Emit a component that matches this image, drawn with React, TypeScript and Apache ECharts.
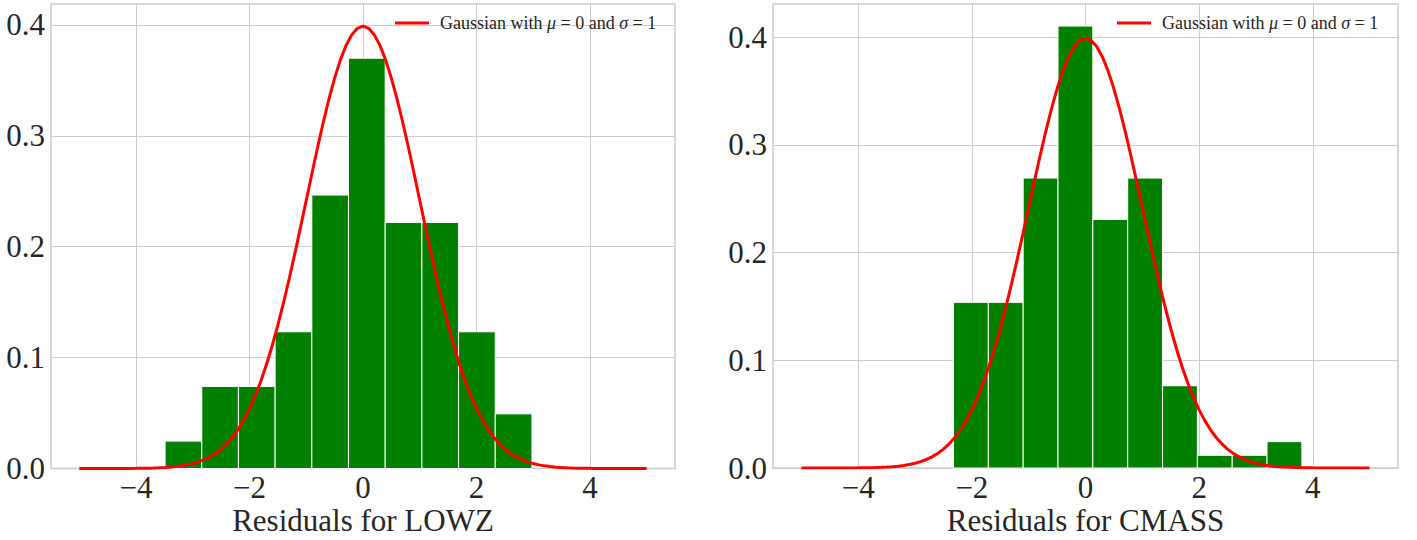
import React, { useEffect, useRef } from 'react';
import * as echarts from 'echarts';

// ---- data ----
const xTicks = [-4, -2, 0, 2, 4];
const yTicks = [0, 0.1, 0.2, 0.3, 0.4];
const xLimits = [-5.5, 5.5];

const lowzBinEdges = [-3.489, -2.842, -2.196, -1.549, -0.902, -0.256, 0.391, 1.038, 1.685, 2.331, 2.978];
const lowzDensity = [0.0247, 0.074, 0.074, 0.1233, 0.2466, 0.37, 0.2219, 0.2219, 0.1233, 0.0493];
const lowzYMax = 0.4189;

const cmassBinEdges = [-2.323, -1.71, -1.097, -0.484, 0.129, 0.743, 1.356, 1.969, 2.582, 3.195, 3.808];
const cmassDensity = [0.1538, 0.1538, 0.2692, 0.4103, 0.2308, 0.2692, 0.0764, 0.0118, 0.0118, 0.0245];
const cmassYMax = 0.4308;

const curveX = [
  -5, -4.9, -4.8, -4.7, -4.6, -4.5, -4.4, -4.3, -4.2, -4.1,
  -4, -3.9, -3.8, -3.7, -3.6, -3.5, -3.4, -3.3, -3.2, -3.1,
  -3, -2.9, -2.8, -2.7, -2.6, -2.5, -2.4, -2.3, -2.2, -2.1,
  -2, -1.9, -1.8, -1.7, -1.6, -1.5, -1.4, -1.3, -1.2, -1.1,
  -1, -0.9, -0.8, -0.7, -0.6, -0.5, -0.4, -0.3, -0.2, -0.1,
  0,
  0.1, 0.2, 0.3, 0.4, 0.5, 0.6, 0.7, 0.8, 0.9, 1,
  1.1, 1.2, 1.3, 1.4, 1.5, 1.6, 1.7, 1.8, 1.9, 2,
  2.1, 2.2, 2.3, 2.4, 2.5, 2.6, 2.7, 2.8, 2.9, 3,
  3.1, 3.2, 3.3, 3.4, 3.5, 3.6, 3.7, 3.8, 3.9, 4,
  4.1, 4.2, 4.3, 4.4, 4.5, 4.6, 4.7, 4.8, 4.9, 5,
];
const curveY = [
  0.0000015, 0.000002, 0.000004, 0.000006, 0.00001, 0.000016, 0.000025, 0.000039, 0.000059, 0.000089,
  0.000134, 0.000199, 0.000292, 0.000425, 0.000612, 0.000873, 0.001232, 0.001723, 0.002384, 0.003267,
  0.004432, 0.005953, 0.007915, 0.010421, 0.013583, 0.017528, 0.022395, 0.028327, 0.035475, 0.043984,
  0.053991, 0.065616, 0.07895, 0.094049, 0.110921, 0.129518, 0.149727, 0.171369, 0.194186, 0.217852,
  0.241971, 0.266085, 0.289692, 0.312254, 0.333225, 0.352065, 0.36827, 0.381388, 0.391043, 0.396953,
  0.398942,
  0.396953, 0.391043, 0.381388, 0.36827, 0.352065, 0.333225, 0.312254, 0.289692, 0.266085, 0.241971,
  0.217852, 0.194186, 0.171369, 0.149727, 0.129518, 0.110921, 0.094049, 0.07895, 0.065616, 0.053991,
  0.043984, 0.035475, 0.028327, 0.022395, 0.017528, 0.013583, 0.010421, 0.007915, 0.005953, 0.004432,
  0.003267, 0.002384, 0.001723, 0.001232, 0.000873, 0.000612, 0.000425, 0.000292, 0.000199, 0.000134,
  0.000089, 0.000059, 0.000039, 0.000025, 0.000016, 0.00001, 0.000006, 0.000004, 0.000002, 0.0000015,
];

const panelNames = ['Residuals for LOWZ', 'Residuals for CMASS'];
const legendLabel = 'Gaussian with μ = 0 and σ = 1';

const FONT = "'Liberation Serif', 'DejaVu Serif', serif";
const TEXT = '#262626';
const GRIDC = '#cccccc';

function histData(edges: number[], vals: number[]) {
  return vals.map((v, i) => [edges[i], edges[i + 1], v]);
}

export default function App() {
  const ref = useRef<HTMLDivElement>(null);
  useEffect(() => {
    if (!ref.current) return;
    const chart = echarts.init(ref.current, null, { renderer: 'svg' });

    const grids = [
      { left: 51, top: 4, width: 624, height: 464.5 },
      { left: 773, top: 4, width: 625, height: 464 },
    ];
    const yMaxes = [lowzYMax, cmassYMax];
    const hists = [histData(lowzBinEdges, lowzDensity), histData(cmassBinEdges, cmassDensity)];
    const legendLeft = [395, 1117];

    const fmtX = (v: number) => (v < 0 ? '\u2212' + Math.abs(v) : String(v));

    const option: any = {
      animation: false,
      backgroundColor: '#ffffff',
      textStyle: { fontFamily: FONT },
      grid: grids.map((g) => ({
        ...g,
        show: true,
        borderColor: GRIDC,
        borderWidth: 1.5,
        backgroundColor: 'transparent',
        containLabel: false,
        outerBoundsMode: 'none',
      })),
      legend: legendLeft.map((l) => ({
        left: l,
        top: 13,
        padding: 0,
        icon: 'rect',
        itemWidth: 34,
        itemHeight: 3,
        selectedMode: false,
        data: [legendLabel],
        formatter: () => 'Gaussian with {i|μ} = 0 and {i|σ} = 1',
        textStyle: {
          fontFamily: FONT,
          fontSize: 18,
          color: TEXT,
          lineHeight: 20,
          padding: [0, 0, 0, 6],
          rich: {
            i: { fontFamily: FONT, fontSize: 18, fontStyle: 'italic', color: TEXT },
          },
        },
      })),
      xAxis: [0, 1].map((i) => ({
        gridIndex: i,
        type: 'value',
        min: xLimits[0],
        max: xLimits[1],
        axisLine: { show: false },
        axisTick: { show: false, customValues: xTicks },
        axisLabel: {
          customValues: xTicks,
          formatter: fmtX,
          fontSize: 31,
          lineHeight: 28,
          fontFamily: FONT,
          color: TEXT,
          margin: 5,
        },
        splitLine: { show: true, lineStyle: { color: GRIDC, width: 1 } },
        name: panelNames[i],
        nameLocation: 'middle',
        nameMoveOverlap: false,
        nameGap: 36,
        nameTextStyle: { fontSize: 31, lineHeight: 32, fontFamily: FONT, color: TEXT },
      })),
      yAxis: [0, 1].map((i) => ({
        gridIndex: i,
        type: 'value',
        min: 0,
        max: yMaxes[i],
        axisLine: { show: false },
        axisTick: { show: false, customValues: yTicks },
        axisLabel: {
          customValues: yTicks,
          formatter: (v: number) => v.toFixed(1),
          fontSize: 31,
          fontFamily: FONT,
          color: TEXT,
          margin: 6,
        },
        splitLine: { show: true, lineStyle: { color: GRIDC, width: 1 } },
      })),
      series: [
        ...[0, 1].map((i) => ({
          type: 'custom',
          name: 'hist' + i,
          xAxisIndex: i,
          yAxisIndex: i,
          data: hists[i],
          encode: { x: [0, 1], y: 2 },
          z: 2,
          renderItem: (_params: any, api: any) => {
            const p0 = api.coord([api.value(0), api.value(2)]);
            const p1 = api.coord([api.value(1), 0]);
            return {
              type: 'rect',
              shape: { x: p0[0], y: p0[1], width: p1[0] - p0[0], height: p1[1] - p0[1] },
              style: { fill: '#008000', stroke: '#ffffff', lineWidth: 1 },
            };
          },
        })),
        ...[0, 1].map((i) => ({
          type: 'line',
          name: legendLabel,
          xAxisIndex: i,
          yAxisIndex: i,
          data: curveX.map((x, k) => [x, curveY[k]]),
          showSymbol: false,
          smooth: false,
          clip: true,
          z: 3,
          color: '#ff0000',
          lineStyle: { color: '#ff0000', width: 3 },
        })),
      ],
    };
    chart.setOption(option);
    return () => chart.dispose();
  }, []);

  return (
    <div
      ref={ref}
      style={{ position: 'fixed', left: 0, top: 0, width: 1417, height: 540, background: '#fff' }}
    />
  );
}
